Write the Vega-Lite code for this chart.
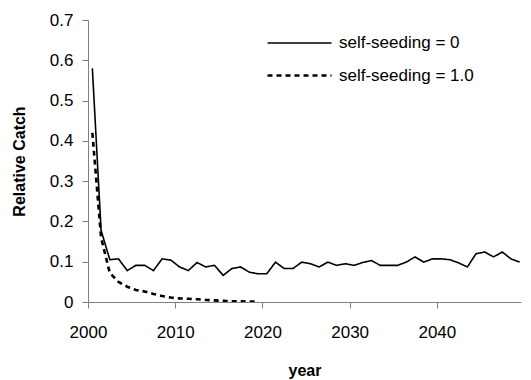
{
  "$schema": "https://vega.github.io/schema/vega-lite/v6.json",
  "autosize": "none",
  "width": 433,
  "height": 282,
  "padding": {"left": 88, "top": 20, "right": 10, "bottom": 78},
  "background": "white",
  "config": {
    "view": {"stroke": null},
    "font": "Liberation Sans"
  },
  "data": {"values": [
    {"year": 2000.5, "catch": 0.58, "series": "self-seeding = 0"},
    {"year": 2001.5, "catch": 0.178, "series": "self-seeding = 0"},
    {"year": 2002.5, "catch": 0.105, "series": "self-seeding = 0"},
    {"year": 2003.5, "catch": 0.107, "series": "self-seeding = 0"},
    {"year": 2004.5, "catch": 0.078, "series": "self-seeding = 0"},
    {"year": 2005.5, "catch": 0.091, "series": "self-seeding = 0"},
    {"year": 2006.5, "catch": 0.091, "series": "self-seeding = 0"},
    {"year": 2007.5, "catch": 0.078, "series": "self-seeding = 0"},
    {"year": 2008.5, "catch": 0.107, "series": "self-seeding = 0"},
    {"year": 2009.5, "catch": 0.104, "series": "self-seeding = 0"},
    {"year": 2010.5, "catch": 0.087, "series": "self-seeding = 0"},
    {"year": 2011.5, "catch": 0.078, "series": "self-seeding = 0"},
    {"year": 2012.5, "catch": 0.098, "series": "self-seeding = 0"},
    {"year": 2013.5, "catch": 0.087, "series": "self-seeding = 0"},
    {"year": 2014.5, "catch": 0.091, "series": "self-seeding = 0"},
    {"year": 2015.5, "catch": 0.066, "series": "self-seeding = 0"},
    {"year": 2016.5, "catch": 0.083, "series": "self-seeding = 0"},
    {"year": 2017.5, "catch": 0.087, "series": "self-seeding = 0"},
    {"year": 2018.5, "catch": 0.074, "series": "self-seeding = 0"},
    {"year": 2019.5, "catch": 0.07, "series": "self-seeding = 0"},
    {"year": 2020.5, "catch": 0.07, "series": "self-seeding = 0"},
    {"year": 2021.5, "catch": 0.099, "series": "self-seeding = 0"},
    {"year": 2022.5, "catch": 0.083, "series": "self-seeding = 0"},
    {"year": 2023.5, "catch": 0.083, "series": "self-seeding = 0"},
    {"year": 2024.5, "catch": 0.099, "series": "self-seeding = 0"},
    {"year": 2025.5, "catch": 0.095, "series": "self-seeding = 0"},
    {"year": 2026.5, "catch": 0.087, "series": "self-seeding = 0"},
    {"year": 2027.5, "catch": 0.099, "series": "self-seeding = 0"},
    {"year": 2028.5, "catch": 0.091, "series": "self-seeding = 0"},
    {"year": 2029.5, "catch": 0.095, "series": "self-seeding = 0"},
    {"year": 2030.5, "catch": 0.091, "series": "self-seeding = 0"},
    {"year": 2031.5, "catch": 0.098, "series": "self-seeding = 0"},
    {"year": 2032.5, "catch": 0.103, "series": "self-seeding = 0"},
    {"year": 2033.5, "catch": 0.091, "series": "self-seeding = 0"},
    {"year": 2034.5, "catch": 0.091, "series": "self-seeding = 0"},
    {"year": 2035.5, "catch": 0.091, "series": "self-seeding = 0"},
    {"year": 2036.5, "catch": 0.099, "series": "self-seeding = 0"},
    {"year": 2037.5, "catch": 0.112, "series": "self-seeding = 0"},
    {"year": 2038.5, "catch": 0.099, "series": "self-seeding = 0"},
    {"year": 2039.5, "catch": 0.107, "series": "self-seeding = 0"},
    {"year": 2040.5, "catch": 0.107, "series": "self-seeding = 0"},
    {"year": 2041.5, "catch": 0.105, "series": "self-seeding = 0"},
    {"year": 2042.5, "catch": 0.097, "series": "self-seeding = 0"},
    {"year": 2043.5, "catch": 0.087, "series": "self-seeding = 0"},
    {"year": 2044.5, "catch": 0.12, "series": "self-seeding = 0"},
    {"year": 2045.5, "catch": 0.124, "series": "self-seeding = 0"},
    {"year": 2046.5, "catch": 0.112, "series": "self-seeding = 0"},
    {"year": 2047.5, "catch": 0.124, "series": "self-seeding = 0"},
    {"year": 2048.5, "catch": 0.107, "series": "self-seeding = 0"},
    {"year": 2049.5, "catch": 0.099, "series": "self-seeding = 0"},
    {"year": 2000.5, "catch": 0.42, "series": "self-seeding = 1.0"},
    {"year": 2001.5, "catch": 0.16, "series": "self-seeding = 1.0"},
    {"year": 2002.5, "catch": 0.072, "series": "self-seeding = 1.0"},
    {"year": 2003.5, "catch": 0.05, "series": "self-seeding = 1.0"},
    {"year": 2004.5, "catch": 0.038, "series": "self-seeding = 1.0"},
    {"year": 2005.5, "catch": 0.03, "series": "self-seeding = 1.0"},
    {"year": 2006.5, "catch": 0.026, "series": "self-seeding = 1.0"},
    {"year": 2007.5, "catch": 0.02, "series": "self-seeding = 1.0"},
    {"year": 2008.5, "catch": 0.015, "series": "self-seeding = 1.0"},
    {"year": 2009.5, "catch": 0.011, "series": "self-seeding = 1.0"},
    {"year": 2010.5, "catch": 0.009, "series": "self-seeding = 1.0"},
    {"year": 2011.5, "catch": 0.008, "series": "self-seeding = 1.0"},
    {"year": 2012.5, "catch": 0.007, "series": "self-seeding = 1.0"},
    {"year": 2013.5, "catch": 0.005, "series": "self-seeding = 1.0"},
    {"year": 2014.5, "catch": 0.004, "series": "self-seeding = 1.0"},
    {"year": 2015.5, "catch": 0.003, "series": "self-seeding = 1.0"},
    {"year": 2016.5, "catch": 0.002, "series": "self-seeding = 1.0"},
    {"year": 2017.5, "catch": 0.002, "series": "self-seeding = 1.0"},
    {"year": 2018.5, "catch": 0.001, "series": "self-seeding = 1.0"},
    {"year": 2019.5, "catch": 0.001, "series": "self-seeding = 1.0"}
  ]},
  "mark": {"type": "line", "color": "black", "clip": true},
  "encoding": {
    "x": {
      "field": "year", "type": "quantitative",
      "scale": {"domain": [2000, 2049.65], "nice": false, "zero": false},
      "axis": {
        "title": "year", "values": [2000, 2010, 2020, 2030, 2040], "format": "d",
        "labelFlush": false, "labelOverlap": false,
        "grid": false, "domainColor": "#808080", "tickColor": "#808080", "tickSize": 6,
        "labelFontSize": 17, "labelColor": "black", "labelPadding": 16,
        "titleFontSize": 16, "titleFontWeight": "bold", "titleColor": "black", "titlePadding": 22
      }
    },
    "y": {
      "field": "catch", "type": "quantitative",
      "scale": {"domain": [0, 0.7], "nice": false},
      "axis": {
        "title": "Relative Catch", "values": [0, 0.1, 0.2, 0.3, 0.4, 0.5, 0.6, 0.7],
        "labelExpr": "datum.value == 0 ? '0' : format(datum.value, '.1f')",
        "labelFlush": false, "labelOverlap": false,
        "grid": false, "domainColor": "#808080", "tickColor": "#808080", "tickSize": 6,
        "labelFontSize": 17, "labelColor": "black", "labelPadding": 9,
        "titleFontSize": 16, "titleFontWeight": "bold", "titleColor": "black", "titlePadding": 22
      }
    },
    "strokeDash": {
      "field": "series", "type": "nominal",
      "scale": {"domain": ["self-seeding = 0", "self-seeding = 1.0"], "range": [[1, 0], [5, 4]]},
      "legend": {
        "title": null, "orient": "none", "legendX": 200, "legendY": 12,
        "symbolType": "M-3.2,0H3.2", "symbolSize": 400, "symbolStrokeColor": "black",
        "labelFontSize": 17, "labelColor": "black", "labelOffset": 28,
        "rowPadding": 13
      }
    },
    "strokeWidth": {
      "field": "series", "type": "nominal",
      "scale": {"domain": ["self-seeding = 0", "self-seeding = 1.0"], "range": [1.6, 2.6]},
      "legend": null
    }
  }
}
